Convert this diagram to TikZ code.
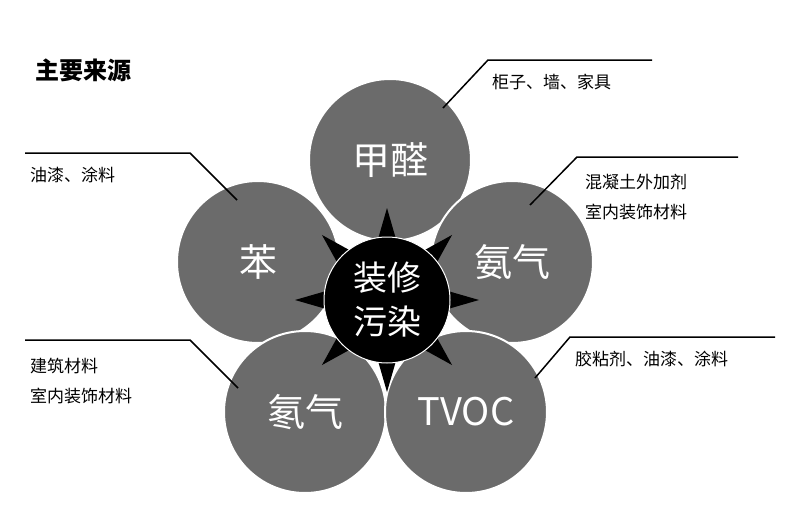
\documentclass[tikz,border=0pt]{standalone}
\usepackage{fontspec}
\setmainfont{Noto Sans CJK SC}
\usetikzlibrary{calc}
\begin{document}
\begin{tikzpicture}[x=1pt,y=-1pt,
 petal/.style={circle,fill=black!58,draw=white,line width=2pt,minimum size=162pt,text=white,font=\fontsize{38}{40}\selectfont,inner sep=0pt},
 lbl/.style={anchor=west,font=\fontsize{17}{30}\selectfont,align=left,inner sep=0pt},
 lead/.style={line width=1.5pt}]
\useasboundingbox (0,0) rectangle (796,517);
\node[anchor=west,font=\fontsize{24}{26}\selectfont\bfseries,inner sep=0pt] (title) at (35,70) {主要来源};
\node[petal] (jq) at (390,160) {甲醛};
\node[petal] (ben) at (258,262) {苯};
\node[petal] (aq) at (512,262) {氨气};
\node[petal] (dq) at (305,412) {氡气};
\node[petal] (tvoc) at (466,412) {TVOC};
\foreach \a in {0,45,...,315}
  \fill[black] ($(387,300)+(\a+90:92)$) -- ($(387,300)+(\a+90+10:58)$) -- ($(387,300)+(\a+90-10:58)$) -- cycle;
\node[circle,fill=black,draw=white,line width=1pt,minimum size=126pt,text=white,font=\fontsize{34}{44}\selectfont,align=center,inner sep=0pt] (c) at (387,300) {装修\\污染};
\coordinate (a1) at (488,60); \coordinate (a2) at (652,60);
\draw[lead] (443,108) -- (a1) -- (a2);
\node[lbl] (t1) at (492,82) {柜子、墙、家具};
\coordinate (b1) at (577,157); \coordinate (b2) at (738,157);
\draw[lead] (530,205) -- (b1) -- (b2);
\node[lbl] (t2) at (585,197) {混凝土外加剂\\室内装饰材料};
\coordinate (l1) at (190,153); \coordinate (l2) at (25,153);
\draw[lead] (237,200) -- (l1) -- (l2);
\node[lbl] (t3) at (30,175) {油漆、涂料};
\coordinate (m1) at (190,340); \coordinate (m2) at (25,340);
\draw[lead] (238,388) -- (m1) -- (m2);
\node[lbl] (t4) at (30,381) {建筑材料\\室内装饰材料};
\coordinate (n1) at (570,337); \coordinate (n2) at (775,337);
\draw[lead] (535,378) -- (n1) -- (n2);
\node[lbl] (t5) at (575,359) {胶粘剂、油漆、涂料};
\end{tikzpicture}
\end{document}
